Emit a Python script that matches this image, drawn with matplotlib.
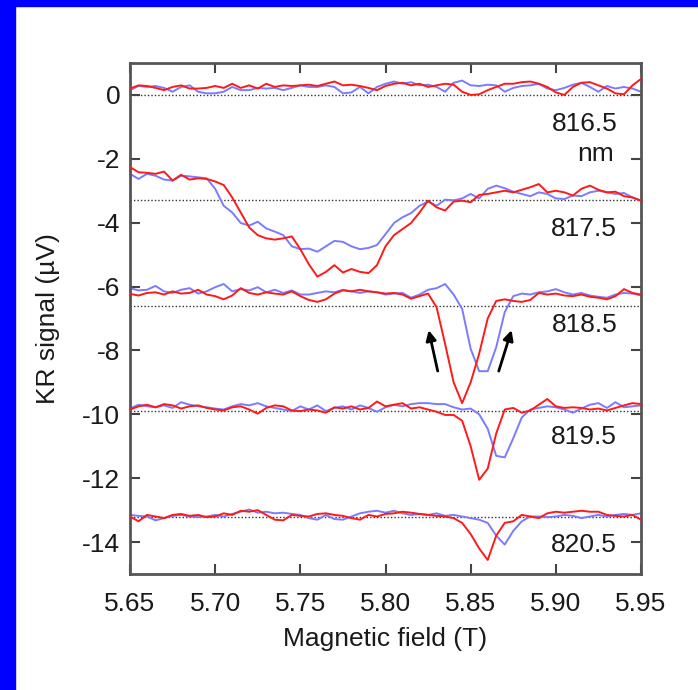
import numpy as np
import matplotlib
matplotlib.use("Agg")
import matplotlib.pyplot as plt
from matplotlib.patches import Rectangle

plt.rcParams['font.family'] = ['Liberation Sans', 'DejaVu Sans']
plt.rcParams['axes.unicode_minus'] = False

# field axis: 5.650 ... 5.950 T in 5 mT steps
field = np.round(np.arange(5.65, 5.9501, 0.005), 3)

wavelengths = ["816.5", "817.5", "818.5", "819.5", "820.5"]
offsets = [0.0, -3.3, -6.6, -9.9, -13.2]

# KR signal relative to each trace's baseline (uV); red = down sweep, blue = up sweep
red_8165 = [0.20, 0.30, 0.28, 0.22, 0.15, 0.25, 0.30, 0.20, 0.20, 0.22,
            0.28, 0.22, 0.35, 0.22, 0.30, 0.20, 0.35, 0.25, 0.30, 0.28,
            0.30, 0.32, 0.28, 0.35, 0.42, 0.30, 0.32, 0.28, 0.22, 0.15,
            0.28, 0.35, 0.38, 0.30, 0.35, 0.25, 0.30, 0.35, 0.32, 0.10,
            0.00, 0.02, 0.15, 0.25, 0.35, 0.35, 0.40, 0.42, 0.35, 0.25,
            0.08, 0.00, 0.25, 0.38, 0.40, 0.30, 0.20, 0.05, 0.02, 0.30,
            0.50]
blue_8165 = [0.15, 0.28, 0.25, 0.28, 0.22, 0.10, 0.25, 0.30, 0.10, 0.05,
             0.05, 0.10, 0.25, 0.15, 0.15, 0.22, 0.20, 0.22, 0.15, 0.22,
             0.30, 0.25, 0.25, 0.30, 0.25, 0.05, 0.08, 0.25, 0.05, 0.25,
             0.35, 0.42, 0.35, 0.40, 0.30, 0.32, 0.25, 0.10, 0.38, 0.45,
             0.30, 0.28, 0.32, 0.30, 0.10, 0.22, 0.28, 0.30, 0.35, 0.20,
             0.15, 0.22, 0.32, 0.38, 0.25, 0.10, 0.28, 0.20, 0.25, 0.20,
             0.10]

red_8175 = [1.04, 0.88, 0.86, 0.83, 0.90, 0.62, 0.80, 0.65, 0.69, 0.67,
            0.59, 0.48, 0.09, -0.38, -0.85, -1.09, -1.19, -1.23, -1.19, -1.13,
            -1.53, -2.00, -2.39, -2.24, -2.03, -2.26, -2.15, -2.24, -2.28, -2.03,
            -1.44, -1.09, -0.90, -0.71, -0.38, -0.01, -0.22, -0.32, -0.04, -0.01,
            -0.06, 0.17, 0.20, 0.25, 0.30, 0.25, 0.33, 0.41, 0.51, 0.25,
            0.30, 0.25, 0.15, 0.36, 0.46, 0.33, 0.25, 0.27, 0.13, 0.09,
            -0.01]
blue_8175 = [0.83, 0.67, 0.83, 0.77, 0.65, 0.62, 0.77, 0.75, 0.72, 0.69,
             0.36, -0.17, -0.38, -0.71, -0.79, -0.67, -0.88, -0.98, -1.09, -1.44,
             -1.53, -1.51, -1.61, -1.44, -1.27, -1.30, -1.44, -1.53, -1.49, -1.40,
             -1.06, -0.71, -0.53, -0.40, -0.17, -0.04, -0.17, 0.02, 0.00, 0.06,
             0.20, 0.06, 0.36, 0.46, 0.38, 0.27, 0.20, 0.13, 0.25, 0.20,
             0.06, 0.04, 0.15, 0.13, 0.25, 0.30, 0.25, 0.20, 0.23, 0.09,
             -0.01]

red_8185 = [0.37, 0.32, 0.40, 0.42, 0.35, 0.45, 0.38, 0.40, 0.50, 0.35,
            0.30, 0.20, 0.32, 0.55, 0.40, 0.35, 0.42, 0.38, 0.35, 0.45,
            0.30, 0.18, 0.12, 0.20, 0.38, 0.48, 0.45, 0.50, 0.45, 0.42,
            0.38, 0.40, 0.35, 0.22, 0.30, 0.38, -0.05, -1.20, -2.40, -3.05,
            -2.40, -1.50, -0.40, 0.15, 0.20, 0.15, 0.12, 0.18, 0.40, 0.35,
            0.38, 0.32, 0.30, 0.35, 0.28, 0.25, 0.20, 0.30, 0.52, 0.40,
            0.35]
blue_8185 = [0.55, 0.48, 0.50, 0.62, 0.45, 0.40, 0.50, 0.55, 0.38, 0.45,
             0.58, 0.68, 0.45, 0.52, 0.48, 0.58, 0.42, 0.50, 0.40, 0.48,
             0.35, 0.35, 0.40, 0.45, 0.42, 0.50, 0.45, 0.40, 0.45, 0.42,
             0.35, 0.38, 0.40, 0.25, 0.35, 0.50, 0.55, 0.68, 0.35, -0.10,
             -1.35, -2.05, -2.05, -1.30, -0.20, 0.30, 0.38, 0.35, 0.42, 0.45,
             0.52, 0.42, 0.35, 0.40, 0.32, 0.28, 0.25, 0.35, 0.40, 0.38,
             0.32]

red_8195 = [0.05, 0.15, 0.20, 0.12, 0.22, 0.18, 0.08, 0.15, 0.18, 0.10,
            0.05, 0.02, 0.12, 0.15, 0.05, -0.08, 0.10, 0.18, 0.15, 0.02,
            0.00, 0.05, 0.02, -0.05, 0.12, 0.08, 0.15, 0.05, 0.10, 0.30,
            0.15, 0.20, 0.25, 0.08, 0.12, 0.05, -0.02, -0.12, -0.12, -0.30,
            -1.10, -2.15, -1.80, -0.70, 0.05, 0.10, -0.05, 0.02, 0.20, 0.38,
            0.15, 0.10, 0.12, 0.10, 0.05, 0.08, 0.02, 0.10, 0.18, 0.25,
            0.22]
blue_8195 = [0.08, 0.20, 0.15, 0.12, 0.18, 0.10, 0.28, 0.20, 0.15, 0.12,
             0.08, 0.05, 0.15, 0.22, 0.18, 0.25, 0.15, 0.10, 0.05, 0.00,
             0.15, 0.05, 0.18, 0.00, 0.10, 0.15, 0.05, 0.18, 0.10, -0.02,
             0.12, 0.20, 0.15, 0.22, 0.25, 0.25, 0.22, 0.22, 0.12, 0.05,
             0.08, -0.10, -0.55, -1.40, -1.45, -0.85, -0.20, 0.05, 0.10, 0.15,
             0.12, 0.05, -0.05, 0.08, 0.20, 0.25, 0.10, 0.28, 0.12, 0.15,
             0.18]

red_8205 = [0.00, -0.15, 0.05, 0.00, -0.05, 0.05, 0.08, 0.02, 0.05, -0.02,
            0.00, 0.10, 0.05, 0.18, 0.15, 0.20, 0.05, -0.10, -0.12, 0.05,
            0.02, 0.00, 0.08, 0.10, 0.05, 0.02, -0.05, -0.10, 0.05, 0.00,
            0.08, 0.10, 0.15, 0.12, 0.08, 0.05, 0.02, 0.00, -0.05, -0.20,
            -0.55, -1.00, -1.36, -0.60, -0.20, -0.15, 0.05, 0.00, -0.05, 0.10,
            0.15, 0.12, 0.15, 0.18, 0.15, 0.15, 0.05, 0.02, 0.00, 0.05,
            -0.10]
blue_8205 = [0.05, 0.02, 0.00, -0.12, -0.05, 0.02, 0.05, 0.00, -0.02, 0.00,
             0.05, 0.00, 0.08, 0.15, 0.22, 0.12, 0.15, 0.10, 0.12, 0.08,
             0.05, -0.05, -0.10, 0.05, -0.08, -0.10, 0.00, 0.10, 0.15, 0.18,
             0.12, 0.18, 0.10, 0.05, 0.08, 0.05, 0.10, 0.02, 0.05, 0.00,
             -0.05, -0.10, -0.20, -0.60, -0.88, -0.45, -0.15, 0.00, 0.00, -0.02,
             0.00, 0.05, 0.02, -0.05, 0.00, 0.05, 0.00, 0.05, 0.08, 0.05,
             0.10]

red_traces = [red_8165, red_8175, red_8185, red_8195, red_8205]
blue_traces = [blue_8165, blue_8175, blue_8185, blue_8195, blue_8205]
label_y = [-0.9, -4.2, -7.2, -10.7, -14.1]

fig = plt.figure(figsize=(6.98, 6.90), dpi=100)
fig.patch.set_facecolor("white")
# blue frame strips on the left and top edges
fig.patches.append(Rectangle((0, 0), 15 / 698, 1, transform=fig.transFigure,
                             color="#0000ff", zorder=0))
fig.patches.append(Rectangle((0, 1 - 6 / 690), 1, 6 / 690, transform=fig.transFigure,
                             color="#0000ff", zorder=0))

ax = fig.add_axes([130 / 698, 1 - 574 / 690, 511 / 698, 511 / 690])

for off, r, b, wl, ly in zip(offsets, red_traces, blue_traces, wavelengths, label_y):
    ax.axhline(off, color="#333333", lw=1.0, ls=(0, (1, 1.5)), zorder=1)
    ax.plot(field, np.array(b) + off, color="#7b7bff", lw=1.4, zorder=2)
    ax.plot(field, np.array(r) + off, color="#ff1a1a", lw=1.4, zorder=3)
    ax.text(5.936, ly, wl, ha="right", va="center", fontsize=19, color="#1a1a1a")

ax.text(5.934, -1.85, "nm", ha="right", va="center", fontsize=19, color="#1a1a1a")

# sweep direction arrows
arrow = dict(arrowstyle="-|>", color="black", lw=2.0, mutation_scale=15)
ax.annotate("", xy=(5.825, -7.28), xytext=(5.831, -8.73), arrowprops=arrow)
ax.annotate("", xy=(5.8745, -7.28), xytext=(5.866, -8.73), arrowprops=arrow)

ax.set_xlim(5.65, 5.95)
ax.set_ylim(-15, 1)
ax.set_xticks([5.65, 5.70, 5.75, 5.80, 5.85, 5.90, 5.95])
ax.set_xticklabels(["5.65", "5.70", "5.75", "5.80", "5.85", "5.90", "5.95"])
ax.set_yticks([0, -2, -4, -6, -8, -10, -12, -14])
ax.tick_params(direction="in", length=7, width=1.5, top=True, right=True,
               labelsize=19, labelcolor="#1a1a1a", color="#444444")
ax.tick_params(axis="x", pad=13)
ax.tick_params(axis="y", pad=7)
for s in ax.spines.values():
    s.set_linewidth(2)
    s.set_color("#555555")

ax.set_xlabel("Magnetic field (T)", fontsize=19, color="#1a1a1a", labelpad=8)
ax.set_ylabel("KR signal (\u00b5V)", fontsize=19, color="#1a1a1a", labelpad=16)

fig.savefig("out.png", dpi=100, facecolor="white")
